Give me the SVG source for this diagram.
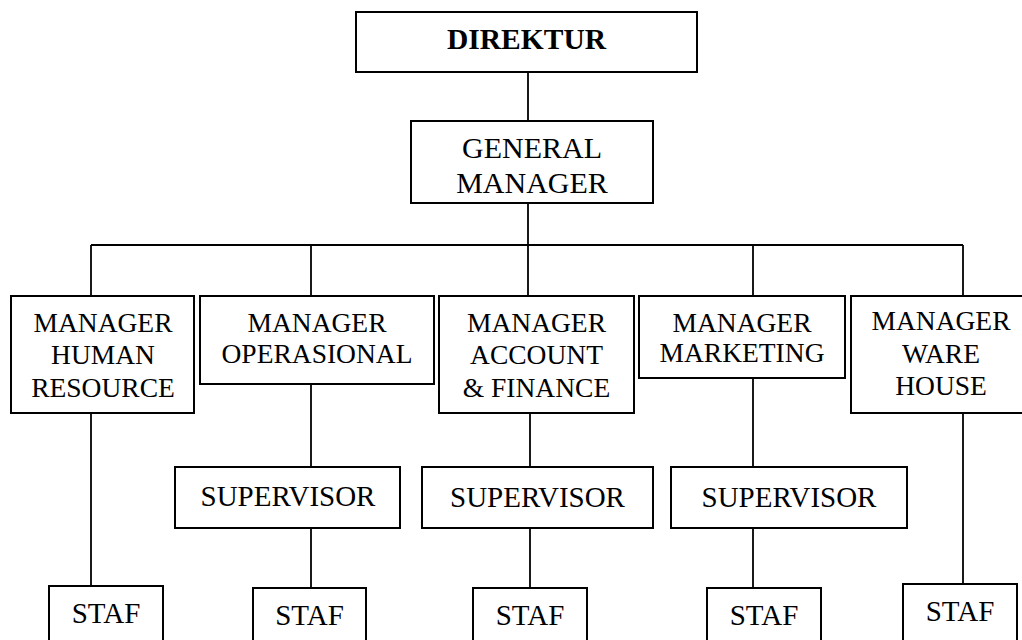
<svg xmlns="http://www.w3.org/2000/svg" width="1022" height="640" viewBox="0 0 1022 640">
<style>
rect{fill:#fff;stroke:#000;stroke-width:2}
.c line{stroke:#000;stroke-width:1.8}
text{font-family:'Liberation Serif','DejaVu Serif',serif;fill:#000;text-anchor:middle}
.b{font-weight:bold;font-size:29.5px}
.g{font-size:30px}
.m{font-size:27.5px}
.s{font-size:29px}
</style>
<rect x="0" y="0" width="1022" height="640" style="stroke:none"/>
<g class="c" id="connectors">
<line x1="528" y1="72" x2="528" y2="121"/>
<line x1="528" y1="203" x2="528" y2="296"/>
<line x1="91" y1="245" x2="963" y2="245"/>
<line x1="91" y1="245" x2="91" y2="296"/>
<line x1="311" y1="245" x2="311" y2="296"/>
<line x1="753" y1="245" x2="753" y2="296"/>
<line x1="963" y1="245" x2="963" y2="296"/>
<line x1="91" y1="413" x2="91" y2="586"/>
<line x1="311" y1="384" x2="311" y2="467"/>
<line x1="311" y1="528" x2="311" y2="588"/>
<line x1="530" y1="413" x2="530" y2="467"/>
<line x1="530" y1="528" x2="530" y2="588"/>
<line x1="753" y1="378" x2="753" y2="467"/>
<line x1="753" y1="528" x2="753" y2="588"/>
<line x1="963" y1="413" x2="963" y2="584"/>
</g>
<g id="direktur"><rect x="356" y="12" width="341" height="60"/><text class="b" font-family="Liberation Serif" x="526.5" y="49">DIREKTUR</text></g>
<g id="gm"><rect x="411" y="121" width="242" height="82"/><text class="g" font-family="Liberation Serif" x="532" y="158">GENERAL</text><text class="g" font-family="Liberation Serif" x="532" y="193">MANAGER</text></g>
<g id="mhr"><rect x="11" y="296" width="183" height="117"/><text class="m" x="103" y="332">MANAGER</text><text class="m" x="103" y="364">HUMAN</text><text class="m" x="103" y="397">RESOURCE</text></g>
<g id="mop"><rect x="200" y="296" width="234" height="88"/><text class="m" x="317" y="332">MANAGER</text><text class="m" x="317" y="363">OPERASIONAL</text></g>
<g id="macc"><rect x="439" y="296" width="195" height="117"/><text class="m" x="536.5" y="332">MANAGER</text><text class="m" x="536.5" y="364">ACCOUNT</text><text class="m" x="536.5" y="397">&amp; FINANCE</text></g>
<g id="mmkt"><rect x="639" y="296" width="206" height="82"/><text class="m" x="742" y="332">MANAGER</text><text class="m" x="742" y="362">MARKETING</text></g>
<g id="mwh"><rect x="851" y="296" width="180" height="117"/><text class="m" x="941" y="330">MANAGER</text><text class="m" x="941" y="363">WARE</text><text class="m" x="941" y="395">HOUSE</text></g>
<g id="sup1"><rect x="175" y="467" width="225" height="61"/><text class="s" x="288" y="506">SUPERVISOR</text></g>
<g id="sup2"><rect x="422" y="467" width="231" height="61"/><text class="s" x="537.5" y="507">SUPERVISOR</text></g>
<g id="sup3"><rect x="671" y="467" width="236" height="61"/><text class="s" x="789" y="507">SUPERVISOR</text></g>
<g id="staf1"><rect x="49" y="586" width="114" height="70"/><text class="s" x="106" y="623">STAF</text></g>
<g id="staf2"><rect x="253" y="588" width="113" height="70"/><text class="s" x="309.5" y="625">STAF</text></g>
<g id="staf3"><rect x="473" y="588" width="114" height="70"/><text class="s" x="530" y="625">STAF</text></g>
<g id="staf4"><rect x="707" y="588" width="114" height="70"/><text class="s" x="764" y="625">STAF</text></g>
<g id="staf5"><rect x="903" y="584" width="114" height="70"/><text class="s" x="960" y="621">STAF</text></g>
</svg>
